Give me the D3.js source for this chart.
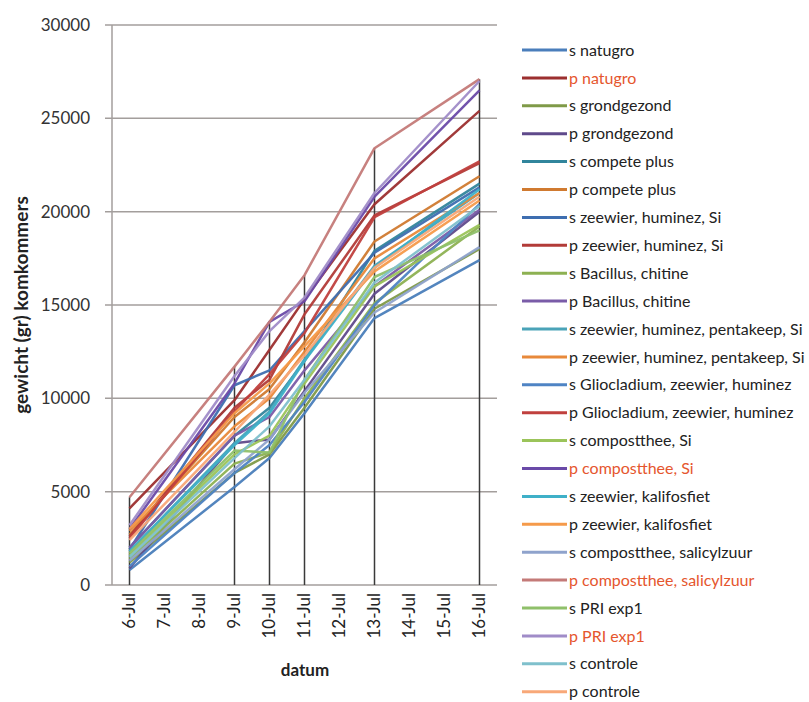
<!DOCTYPE html>
<html><head><meta charset="utf-8">
<script src="https://cdn.jsdelivr.net/npm/d3@7"></script>
<style>body{margin:0;background:#fff}svg{display:block}</style>
</head><body>
<svg id="c" width="809" height="702"></svg>
<script>
const dates = ["6-Jul","7-Jul","8-Jul","9-Jul","10-Jul","11-Jul","12-Jul","13-Jul","14-Jul","15-Jul","16-Jul"];
const measuredDates = ["6-Jul","9-Jul","10-Jul","11-Jul","13-Jul","16-Jul"];
const yTicks = [0,5000,10000,15000,20000,25000,30000];
const seriesNames = ["s natugro","p natugro","s grondgezond","p grondgezond","s compete plus","p compete plus",
 "s zeewier, huminez, Si","p zeewier, huminez, Si","s Bacillus, chitine","p Bacillus, chitine",
 "s zeewier, huminez, pentakeep, Si","p zeewier, huminez, pentakeep, Si","s Gliocladium, zeewier, huminez",
 "p Gliocladium, zeewier, huminez","s compostthee, Si","p compostthee, Si","s zeewier, kalifosfiet",
 "p zeewier, kalifosfiet","s compostthee, salicylzuur","p compostthee, salicylzuur","s PRI exp1","p PRI exp1",
 "s controle","p controle"];
const seriesColors = ["#4a7ebb","#9c2f2f","#7f9a48","#5f4a8b","#31859c","#d07a30",
 "#3e6eb0","#b23b38","#8db152","#7a5ca8","#4aa3b8","#e8893a","#4f84c4","#c0403e",
 "#9bc45a","#6a4aa8","#3fb0c8","#f59a4a","#8fa3cc","#c47a78","#8fc06a","#a08cc8","#7fc0cc","#f8a878"];
const highlighted = ["p natugro","p compostthee, Si","p compostthee, salicylzuur","p PRI exp1"];
// values at 6, 9, 10, 11, 13, 16 Jul
const v01 = [800, 5250, 6800, 9200, 14300, 17400];
const v02 = [4100, 9900, 12600, 15300, 20400, 25400];
const v03 = [1200, 6000, 7000, 9500, 14800, 18000];
const v04 = [900, 7600, 7800, 10400, 15600, 20000];
const v05 = [2000, 8000, 9500, 12000, 17900, 21500];
const v06 = [2700, 9000, 10500, 13000, 18400, 21900];
const v07 = [1900, 10700, 11500, 13600, 17800, 21300];
const v08 = [2600, 9500, 11000, 14500, 19800, 22600];
const v09 = [1400, 6500, 7100, 10000, 15100, 19200];
const v10 = [2000, 8000, 9000, 11500, 16000, 20100];
const v11 = [1800, 7600, 9300, 12100, 17100, 21000];
const v12 = [2900, 8500, 10000, 12500, 17500, 21000];
const v13 = [1000, 6000, 7500, 9800, 15000, 20400];
const v14 = [2500, 9300, 11300, 13500, 19700, 22700];
const v15 = [1600, 7000, 8000, 10800, 16000, 19300];
const v16 = [3000, 10800, 14100, 15200, 20800, 26500];
const v17 = [1800, 7500, 9200, 12000, 17000, 21200];
const v18 = [3000, 9200, 10800, 12800, 16800, 20600];
const v19 = [1300, 6200, 7800, 10300, 14600, 18100];
const v20 = [4700, 11700, 14100, 16600, 23400, 27100];
const v21 = [1700, 7200, 7100, 11000, 16500, 19000];
const v22 = [3200, 11200, 13600, 15400, 21000, 27000];
const v23 = [1500, 6800, 8500, 11000, 16200, 20300];
const v24 = [2400, 8200, 10200, 12300, 17000, 20800];
const seriesValues = [v01,v02,v03,v04,v05,v06,v07,v08,v09,v10,v11,v12,v13,v14,v15,v16,v17,v18,v19,v20,v21,v22,v23,v24];

const svg = d3.select("#c");
const L = 112, R = 497, T = 25, B = 585;
const x = d3.scaleBand().domain(dates).range([L, R]);
const y = d3.scaleLinear().domain([0, 30000]).range([B, T]);
const cx = d => x(d) + x.bandwidth()/2;
const font = "Lato, 'Open Sans', sans-serif";

// gridlines
svg.append("g").selectAll("line").data(yTicks).join("line")
  .attr("x1", L - 7).attr("x2", R).attr("y1", d => y(d)).attr("y2", d => y(d))
  .attr("stroke", "#a39e9c").attr("stroke-width", 1.5);
svg.append("line").attr("x1", L).attr("x2", L).attr("y1", T).attr("y2", B)
  .attr("stroke", "#a39e9c").attr("stroke-width", 1.5);

// y axis labels
const yAxis = d3.axisLeft(y).tickValues(yTicks).tickSize(0).tickPadding(22).tickFormat(d3.format("d"));
const gy = svg.append("g").attr("transform", `translate(${L},0)`).call(yAxis);
gy.select(".domain").remove();
gy.selectAll("text").attr("font-family", font).attr("font-size", 17).attr("fill", "#333");

// x axis labels
const xAxis = d3.axisBottom(x).tickSize(0).tickPadding(0);
const gx = svg.append("g").attr("transform", `translate(0,${B})`).call(xAxis);
gx.select(".domain").remove();
gx.selectAll("text").attr("font-family", font).attr("font-size", 17).attr("fill", "#222")
  .attr("transform", "rotate(-90)").attr("text-anchor", "end")
  .attr("x", -8).attr("y", 0).attr("dy", "0.35em");

// drop lines
const maxima = measuredDates.map((d, i) => ({d, v: d3.max(seriesValues, s => s[i])}));
svg.append("g").selectAll("line").data(maxima).join("line")
  .attr("x1", m => cx(m.d)).attr("x2", m => cx(m.d))
  .attr("y1", m => y(m.v)).attr("y2", y(0))
  .attr("stroke", "#3a3a3a").attr("stroke-width", 1.5);

// series lines
const line = d3.line().x(p => cx(p[0])).y(p => y(p[1]));
const g = svg.append("g");
seriesValues.forEach((vals, i) => {
  const pts = measuredDates.map((d, j) => [d, vals[j]]);
  g.append("path").attr("d", line(pts)).attr("fill", "none")
    .attr("stroke", seriesColors[i]).attr("stroke-width", 2.5)
    .attr("stroke-linejoin", "round").attr("stroke-opacity", 0.95);
});

// axis titles
svg.append("text").attr("x", 305).attr("y", 676).attr("text-anchor", "middle")
  .attr("font-family", font).attr("font-weight", "bold").attr("font-size", 17).attr("fill", "#222").text("datum");
svg.append("text").attr("transform", "translate(28,305) rotate(-90)").attr("text-anchor", "middle")
  .attr("font-family", font).attr("font-weight", "bold").attr("font-size", 19).attr("fill", "#222").text("gewicht (gr) komkommers");

// legend
const lg = svg.append("g");
const rowY = i => 50 + i * 27.9;
seriesNames.forEach((n, i) => {
  lg.append("line").attr("x1", 522).attr("x2", 567).attr("y1", rowY(i)).attr("y2", rowY(i))
    .attr("stroke", seriesColors[i]).attr("stroke-width", 3);
  lg.append("text").attr("x", 569).attr("y", rowY(i)).attr("dy", "0.35em")
    .attr("font-family", font).attr("font-size", 16)
    .attr("fill", highlighted.includes(n) ? "#e5562e" : "#222").text(n);
});
</script>
</body></html>
